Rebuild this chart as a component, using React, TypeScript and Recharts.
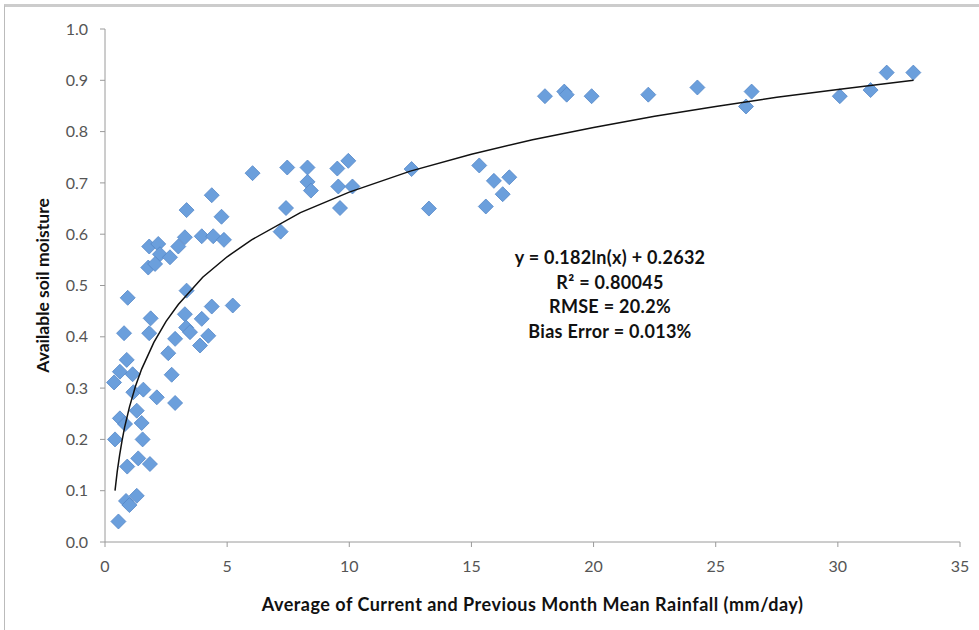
import { ComposedChart, Scatter, XAxis, YAxis, Label } from "recharts";

// rainfall (mm/day) vs available soil moisture
const rainfall = [
  0.55, 0.37, 0.41, 0.61, 0.61, 0.78, 0.89, 0.93, 0.91, 0.86, 1.0, 1.3, 1.13, 0.82,
  1.16, 1.3, 1.36, 1.5, 1.54, 1.57, 1.84, 1.81, 1.87, 2.12, 2.59, 2.73, 2.87, 2.87,
  3.27, 3.32, 3.48, 3.89, 3.96, 4.23, 4.37, 5.23, 3.34,
  1.81, 2.18, 2.25, 1.77, 2.05, 2.66, 3.0, 3.27, 3.96, 4.43, 4.87,
  3.34, 4.37, 4.77, 6.04,
  7.46, 8.29, 9.51, 9.96, 8.29, 8.43, 9.55, 10.13, 7.41, 9.62, 7.19, 12.55, 13.26,
  15.32, 15.92, 16.55, 16.28, 15.59,
  18.01, 18.8, 18.9, 19.92, 22.24, 24.25, 26.47, 26.24, 30.08, 31.34, 32.0, 33.09,
];
const moisture = [
  0.04, 0.311, 0.2, 0.332, 0.241, 0.407, 0.355, 0.476, 0.147, 0.08, 0.072, 0.09, 0.327, 0.23,
  0.292, 0.256, 0.163, 0.232, 0.2, 0.297, 0.152, 0.407, 0.436, 0.282, 0.368, 0.326, 0.271, 0.396,
  0.444, 0.418, 0.409, 0.383, 0.435, 0.402, 0.459, 0.461, 0.49,
  0.576, 0.581, 0.561, 0.535, 0.542, 0.555, 0.576, 0.594, 0.596, 0.596, 0.589,
  0.647, 0.676, 0.634, 0.719,
  0.73, 0.73, 0.728, 0.743, 0.702, 0.685, 0.693, 0.693, 0.651, 0.651, 0.605, 0.727, 0.65,
  0.734, 0.704, 0.711, 0.678, 0.654,
  0.869, 0.878, 0.872, 0.869, 0.872, 0.886, 0.878, 0.849, 0.869, 0.881, 0.915, 0.915,
];

// points
const trendX = [0.41, 0.5, 0.6, 0.7, 0.8, 1, 1.25, 1.5, 2, 2.5, 3, 4, 5, 6, 8, 10, 12.5, 15, 17.5, 20, 22.5, 25, 27.5, 30, 33.1];
const trendY = [0.1, 0.137, 0.17, 0.198, 0.223, 0.263, 0.304, 0.337, 0.389, 0.43, 0.463, 0.516, 0.556, 0.589, 0.642, 0.682, 0.723, 0.756, 0.784, 0.808, 0.83, 0.849, 0.867, 0.882, 0.9];

const xTicks = [0, 5, 10, 15, 20, 25, 30, 35];
const yTicks = [0, 0.1, 0.2, 0.3, 0.4, 0.5, 0.6, 0.7, 0.8, 0.9, 1.0];

const fitLines = ["y = 0.182ln(x) + 0.2632", "R² = 0.80045", "RMSE = 20.2%", "Bias Error = 0.013%"];

const points = rainfall.map((x, i) => ({ x, y: moisture[i] }));
const trend = trendX.map((x, i) => ({ x, y: trendY[i] }));

const FONT = "Lato, 'Liberation Sans', Arial, sans-serif";

const Diamond = (props: any) => {
  const { cx, cy } = props;
  const r = 7.5;
  return (
    <polygon
      points={`${cx},${cy - r} ${cx + r},${cy} ${cx},${cy + r} ${cx - r},${cy}`}
      fill="#6b9fdc"
      stroke="#5588c8"
      strokeWidth={0.8}
    />
  );
};

export default function App() {
  return (
    <div
      style={{
        position: "absolute",
        left: 0,
        top: 0,
        width: 979,
        height: 630,
        background: "#fff",
        fontFamily: FONT,
      }}
    >
      <div
        style={{
          position: "absolute",
          left: 4,
          top: 4,
          width: 975,
          height: 626,
          borderTop: "3px solid #cccccc",
          borderLeft: "1px solid #bbbbbb",
        }}
      />
      <ComposedChart
        width={979}
        height={630}
        margin={{ top: 29, right: 19, bottom: 28, left: 45 }}
        style={{ position: "absolute", left: 0, top: 0 }}
      >
        <XAxis
          type="number"
          dataKey="x"
          domain={[0, 35]}
          ticks={xTicks}
          height={60}
          stroke="#9a9a9a"
          tickSize={5}
          tick={{ fill: "#555", fontSize: 16, fontFamily: FONT }}
          tickMargin={14}
        >
          <Label
            value="Average of Current and Previous Month Mean Rainfall (mm/day)"
            position="insideBottom"
            offset={-9}
            style={{ fill: "#111", fontSize: 18, fontWeight: "bold", letterSpacing: 0.5, fontFamily: FONT }}
          />
        </XAxis>
        <YAxis
          type="number"
          dataKey="y"
          domain={[0, 1]}
          ticks={yTicks}
          width={60}
          stroke="#9a9a9a"
          tickSize={5}
          tickMargin={12}
          tickFormatter={(v: number) => v.toFixed(1)}
          tick={{ fill: "#555", fontSize: 16, fontFamily: FONT }}
        >
          <Label
            value="Available soil moisture"
            angle={-90}
            position="insideLeft"
            offset={-2}
            style={{ textAnchor: "middle", fill: "#111", fontSize: 17.5, fontWeight: "bold", fontFamily: FONT }}
          />
        </YAxis>
        <Scatter data={points} shape={Diamond} isAnimationActive={false} />
        <Scatter
          data={trend}
          line={{ stroke: "#111", strokeWidth: 1.5 }}
          lineType="joint"
          shape={() => <g />}
          isAnimationActive={false}
        />
        {fitLines.map((t, i) => (
          <text
            key={t}
            x={610}
            y={264 + i * 24.7}
            textAnchor="middle"
            fontFamily={FONT}
            fontSize={18}
            fontWeight="bold"
            letterSpacing={0.3}
            fill="#111"
          >
            {t}
          </text>
        ))}
      </ComposedChart>
    </div>
  );
}
